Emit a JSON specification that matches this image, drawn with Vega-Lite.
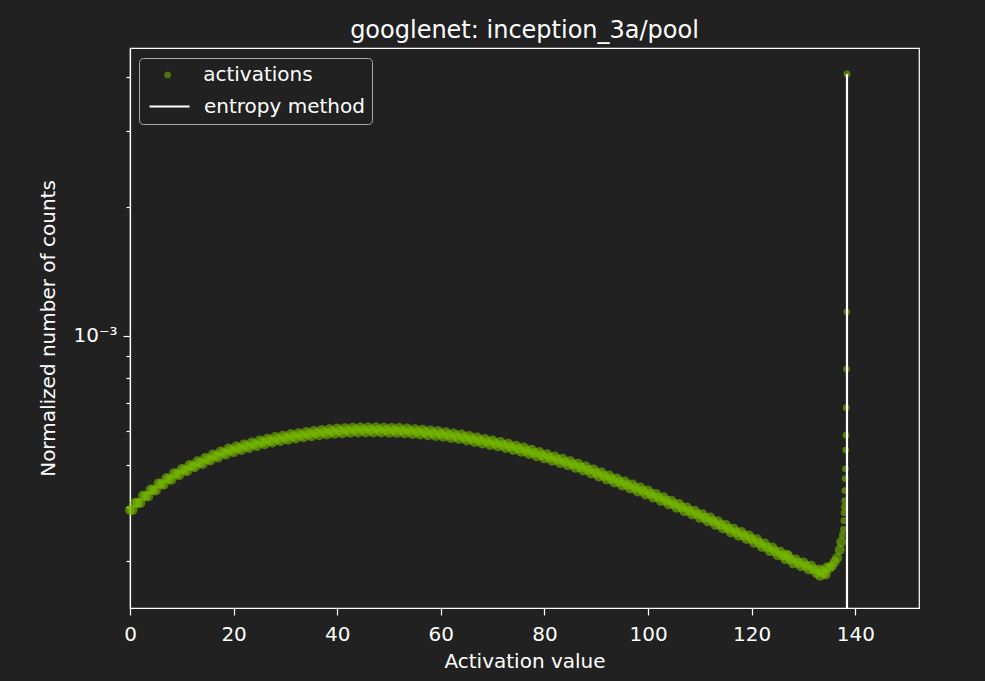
{
  "$schema": "https://vega.github.io/schema/vega-lite/v6.json",
  "width": 789,
  "height": 560,
  "autosize": {"type": "none"},
  "padding": {"left": 130, "top": 48, "right": 66, "bottom": 73},
  "background": "#212121",
  "config": {
    "view": {"stroke": "#ffffff", "strokeWidth": 1.2, "fill": "#212121"},
    "font": "DejaVu Sans",
    "axis": {
      "domainColor": "#ffffff",
      "domainWidth": 1.2,
      "tickColor": "#ffffff",
      "tickWidth": 1.2,
      "labelColor": "#ffffff",
      "titleColor": "#ffffff",
      "labelFont": "DejaVu Sans",
      "titleFont": "DejaVu Sans",
      "labelFontSize": 20,
      "titleFontSize": 20,
      "titleFontWeight": "normal",
      "grid": false
    },
    "legend": {
      "orient": "none",
      "legendX": 9,
      "legendY": 10,
      "padding": 7,
      "labelLimit": 400,
      "labelFont": "DejaVu Sans",
      "labelFontSize": 20,
      "labelColor": "#ffffff",
      "titleFont": "DejaVu Sans",
      "titleFontSize": 20,
      "titleColor": "#ffffff"
    }
  },
  "title": {
    "text": "googlenet: inception_3a/pool",
    "font": "DejaVu Sans",
    "fontSize": 24,
    "fontWeight": "normal",
    "color": "#ffffff",
    "anchor": "middle",
    "offset": 5
  },
  "layer": [
    {
      "data": {
        "values": [
          {"x":0,"y":3.939e-4},{"x":0.5,"y":3.937e-4},{"x":1,"y":4.093e-4},{"x":1.5,"y":4.090e-4},{"x":2,"y":4.087e-4},{"x":2.5,"y":4.248e-4},{"x":3,"y":4.246e-4},{"x":3.5,"y":4.236e-4},{"x":4,"y":4.393e-4},{"x":4.5,"y":4.383e-4},
          {"x":5,"y":4.373e-4},{"x":5.5,"y":4.538e-4},{"x":6,"y":4.528e-4},{"x":6.5,"y":4.510e-4},{"x":7,"y":4.669e-4},{"x":7.5,"y":4.650e-4},{"x":8,"y":4.631e-4},{"x":8.5,"y":4.797e-4},{"x":9,"y":4.777e-4},{"x":9.5,"y":4.747e-4},
          {"x":10,"y":4.906e-4},{"x":10.5,"y":4.875e-4},{"x":11,"y":4.846e-4},{"x":11.5,"y":5.008e-4},{"x":12,"y":4.979e-4},{"x":12.5,"y":4.949e-4},{"x":13,"y":5.110e-4},{"x":13.5,"y":5.075e-4},{"x":14,"y":5.040e-4},{"x":14.5,"y":5.203e-4},
          {"x":15,"y":5.168e-4},{"x":15.5,"y":5.132e-4},{"x":16,"y":5.301e-4},{"x":16.5,"y":5.261e-4},{"x":17,"y":5.220e-4},{"x":17.5,"y":5.386e-4},{"x":18,"y":5.345e-4},{"x":18.5,"y":5.304e-4},{"x":19,"y":5.472e-4},{"x":19.5,"y":5.420e-4},
          {"x":20,"y":5.369e-4},{"x":20.5,"y":5.531e-4},{"x":21,"y":5.480e-4},{"x":21.5,"y":5.429e-4},{"x":22,"y":5.592e-4},{"x":22.5,"y":5.540e-4},{"x":23,"y":5.488e-4},{"x":23.5,"y":5.653e-4},{"x":24,"y":5.600e-4},{"x":24.5,"y":5.547e-4},
          {"x":25,"y":5.713e-4},{"x":25.5,"y":5.657e-4},{"x":26,"y":5.600e-4},{"x":26.5,"y":5.765e-4},{"x":27,"y":5.709e-4},{"x":27.5,"y":5.652e-4},{"x":28,"y":5.818e-4},{"x":28.5,"y":5.761e-4},{"x":29,"y":5.700e-4},{"x":29.5,"y":5.863e-4},
          {"x":30,"y":5.802e-4},{"x":30.5,"y":5.739e-4},{"x":31,"y":5.905e-4},{"x":31.5,"y":5.842e-4},{"x":32,"y":5.778e-4},{"x":32.5,"y":5.942e-4},{"x":33,"y":5.878e-4},{"x":33.5,"y":5.813e-4},{"x":34,"y":5.979e-4},{"x":34.5,"y":5.913e-4},
          {"x":35,"y":5.848e-4},{"x":35.5,"y":6.014e-4},{"x":36,"y":5.949e-4},{"x":36.5,"y":5.880e-4},{"x":37,"y":6.043e-4},{"x":37.5,"y":5.973e-4},{"x":38,"y":5.903e-4},{"x":38.5,"y":6.067e-4},{"x":39,"y":5.997e-4},{"x":39.5,"y":5.927e-4},
          {"x":40,"y":6.091e-4},{"x":40.5,"y":6.017e-4},{"x":41,"y":5.943e-4},{"x":41.5,"y":6.103e-4},{"x":42,"y":6.029e-4},{"x":42.5,"y":5.955e-4},{"x":43,"y":6.115e-4},{"x":43.5,"y":6.041e-4},{"x":44,"y":5.966e-4},{"x":44.5,"y":6.124e-4},
          {"x":45,"y":6.045e-4},{"x":45.5,"y":5.966e-4},{"x":46,"y":6.124e-4},{"x":46.5,"y":6.045e-4},{"x":47,"y":5.966e-4},{"x":47.5,"y":6.124e-4},{"x":48,"y":6.045e-4},{"x":48.5,"y":5.964e-4},{"x":49,"y":6.120e-4},{"x":49.5,"y":6.039e-4},
          {"x":50,"y":5.958e-4},{"x":50.5,"y":6.113e-4},{"x":51,"y":6.033e-4},{"x":51.5,"y":5.953e-4},{"x":52,"y":6.107e-4},{"x":52.5,"y":6.023e-4},{"x":53,"y":5.939e-4},{"x":53.5,"y":6.089e-4},{"x":54,"y":6.005e-4},{"x":54.5,"y":5.921e-4},
          {"x":55,"y":6.071e-4},{"x":55.5,"y":5.987e-4},{"x":56,"y":5.903e-4},{"x":56.5,"y":6.051e-4},{"x":57,"y":5.965e-4},{"x":57.5,"y":5.880e-4},{"x":58,"y":6.026e-4},{"x":58.5,"y":5.941e-4},{"x":59,"y":5.856e-4},{"x":59.5,"y":6.002e-4},
          {"x":60,"y":5.917e-4},{"x":60.5,"y":5.828e-4},{"x":61,"y":5.970e-4},{"x":61.5,"y":5.881e-4},{"x":62,"y":5.794e-4},{"x":62.5,"y":5.934e-4},{"x":63,"y":5.846e-4},{"x":63.5,"y":5.758e-4},{"x":64,"y":5.899e-4},{"x":64.5,"y":5.807e-4},
          {"x":65,"y":5.717e-4},{"x":65.5,"y":5.851e-4},{"x":66,"y":5.761e-4},{"x":66.5,"y":5.670e-4},{"x":67,"y":5.804e-4},{"x":67.5,"y":5.715e-4},{"x":68,"y":5.626e-4},{"x":68.5,"y":5.759e-4},{"x":69,"y":5.670e-4},{"x":69.5,"y":5.581e-4},
          {"x":70,"y":5.713e-4},{"x":70.5,"y":5.625e-4},{"x":71,"y":5.537e-4},{"x":71.5,"y":5.668e-4},{"x":72,"y":5.580e-4},{"x":72.5,"y":5.489e-4},{"x":73,"y":5.615e-4},{"x":73.5,"y":5.524e-4},{"x":74,"y":5.433e-4},{"x":74.5,"y":5.557e-4},
          {"x":75,"y":5.468e-4},{"x":75.5,"y":5.378e-4},{"x":76,"y":5.501e-4},{"x":76.5,"y":5.409e-4},{"x":77,"y":5.318e-4},{"x":77.5,"y":5.437e-4},{"x":78,"y":5.345e-4},{"x":78.5,"y":5.255e-4},{"x":79,"y":5.372e-4},{"x":79.5,"y":5.282e-4},
          {"x":80,"y":5.193e-4},{"x":80.5,"y":5.308e-4},{"x":81,"y":5.219e-4},{"x":81.5,"y":5.129e-4},{"x":82,"y":5.243e-4},{"x":82.5,"y":5.155e-4},{"x":83,"y":5.068e-4},{"x":83.5,"y":5.180e-4},{"x":84,"y":5.094e-4},{"x":84.5,"y":5.005e-4},
          {"x":85,"y":5.113e-4},{"x":85.5,"y":5.024e-4},{"x":86,"y":4.935e-4},{"x":86.5,"y":5.042e-4},{"x":87,"y":4.954e-4},{"x":87.5,"y":4.865e-4},{"x":88,"y":4.970e-4},{"x":88.5,"y":4.879e-4},{"x":89,"y":4.791e-4},{"x":89.5,"y":4.891e-4},
          {"x":90,"y":4.803e-4},{"x":90.5,"y":4.715e-4},{"x":91,"y":4.814e-4},{"x":91.5,"y":4.727e-4},{"x":92,"y":4.640e-4},{"x":92.5,"y":4.737e-4},{"x":93,"y":4.650e-4},{"x":93.5,"y":4.565e-4},{"x":94,"y":4.661e-4},{"x":94.5,"y":4.577e-4},
          {"x":95,"y":4.493e-4},{"x":95.5,"y":4.587e-4},{"x":96,"y":4.504e-4},{"x":96.5,"y":4.422e-4},{"x":97,"y":4.514e-4},{"x":97.5,"y":4.431e-4},{"x":98,"y":4.350e-4},{"x":98.5,"y":4.440e-4},{"x":99,"y":4.360e-4},{"x":99.5,"y":4.281e-4},
          {"x":100,"y":4.371e-4},{"x":100.5,"y":4.289e-4},{"x":101,"y":4.208e-4},{"x":101.5,"y":4.293e-4},{"x":102,"y":4.212e-4},{"x":102.5,"y":4.132e-4},{"x":103,"y":4.215e-4},{"x":103.5,"y":4.136e-4},{"x":104,"y":4.059e-4},{"x":104.5,"y":4.140e-4},
          {"x":105,"y":4.063e-4},{"x":105.5,"y":3.986e-4},{"x":106,"y":4.067e-4},{"x":106.5,"y":3.990e-4},{"x":107,"y":3.914e-4},{"x":107.5,"y":3.993e-4},{"x":108,"y":3.918e-4},{"x":108.5,"y":3.844e-4},{"x":109,"y":3.922e-4},{"x":109.5,"y":3.849e-4},
          {"x":110,"y":3.776e-4},{"x":110.5,"y":3.851e-4},{"x":111,"y":3.779e-4},{"x":111.5,"y":3.707e-4},{"x":112,"y":3.782e-4},{"x":112.5,"y":3.709e-4},{"x":113,"y":3.637e-4},{"x":113.5,"y":3.708e-4},{"x":114,"y":3.636e-4},{"x":114.5,"y":3.565e-4},
          {"x":115,"y":3.635e-4},{"x":115.5,"y":3.563e-4},{"x":116,"y":3.493e-4},{"x":116.5,"y":3.564e-4},{"x":117,"y":3.497e-4},{"x":117.5,"y":3.432e-4},{"x":118,"y":3.501e-4},{"x":118.5,"y":3.435e-4},{"x":119,"y":3.370e-4},{"x":119.5,"y":3.437e-4},
          {"x":120,"y":3.372e-4},{"x":120.5,"y":3.303e-4},{"x":121,"y":3.366e-4},{"x":121.5,"y":3.299e-4},{"x":122,"y":3.231e-4},{"x":122.5,"y":3.292e-4},{"x":123,"y":3.226e-4},{"x":123.5,"y":3.160e-4},{"x":124,"y":3.220e-4},{"x":124.5,"y":3.156e-4},
          {"x":125,"y":3.093e-4},{"x":125.5,"y":3.151e-4},{"x":126,"y":3.088e-4},{"x":126.5,"y":3.025e-4},{"x":127,"y":3.083e-4},{"x":127.5,"y":3.020e-4},{"x":128,"y":2.959e-4},{"x":128.5,"y":3.021e-4},{"x":129,"y":2.967e-4},{"x":129.5,"y":2.913e-4},
          {"x":130,"y":2.973e-4},{"x":130.5,"y":2.919e-4},{"x":131,"y":2.865e-4},{"x":131.5,"y":2.921e-4},{"x":132,"y":2.864e-4},{"x":132.5,"y":2.808e-4},{"x":133,"y":2.863e-4},{"x":133.5,"y":2.836e-4},{"x":134,"y":2.809e-4},{"x":134.5,"y":2.893e-4},
          {"x":135,"y":2.888e-4},{"x":135.5,"y":2.919e-4},{"x":136,"y":2.982e-4},{"x":136.5,"y":3.046e-4},{"x":137,"y":3.179e-4},{"x":137.3,"y":3.319e-4},
          {"x":133.2,"y":2.77e-4},{"x":134.3,"y":2.79e-4},{"x":126.8,"y":3.10e-4}
        ]
      },
      "mark": {"type": "circle", "size": 100, "opacity": 0.6},
      "encoding": {
        "x": {
          "field": "x",
          "type": "quantitative",
          "scale": {"domain": [0, 152.3], "nice": false, "zero": false},
          "axis": {
            "values": [0, 20, 40, 60, 80, 100, 120, 140],
            "format": "d",
            "tickSize": 7,
            "labelPadding": 9,
            "labelFlush": false,
            "title": "Activation value",
            "titlePadding": 7
          }
        },
        "y": {
          "field": "y",
          "type": "quantitative",
          "scale": {"type": "log", "domain": [0.000233, 0.004675], "nice": false},
          "axis": {
            "values": [0.0003, 0.0004, 0.0005, 0.0006, 0.0007, 0.0008, 0.0009, 0.001, 0.002, 0.003, 0.004],
            "labelExpr": "datum.value == 0.001 ? '10⁻³' : ''",
            "tickSize": {"condition": {"test": "datum.value == 0.001", "value": 7}, "value": 4},
            "labelPadding": 6,
            "title": "Normalized number of counts",
            "titlePadding": 14
          }
        },
        "color": {
          "datum": "activations",
          "type": "nominal",
          "scale": {"domain": ["activations"], "range": ["#76b900"]},
          "legend": {
            "title": null,
            "symbolType": "circle",
            "symbolSize": 45,
            "symbolOpacity": 0.55,
            "symbolOffset": 11.6,
            "labelOffset": 25.6
          }
        }
      }
    },
    {
      "data": {
        "values": [
          {"x":137.5,"y":3.446e-4},{"x":137.7,"y":3.55e-4},{"x":137.8,"y":3.72e-4},{"x":137.85,"y":3.88e-4},{"x":137.9,"y":4.00e-4},{"x":137.95,"y":4.14e-4},{"x":138.0,"y":4.37e-4},{"x":138.05,"y":4.66e-4},{"x":138.1,"y":4.91e-4},{"x":138.15,"y":5.43e-4},{"x":138.2,"y":5.88e-4},
          {"x":138.25,"y":6.81e-4},{"x":138.3,"y":8.38e-4},{"x":138.35,"y":1.138e-3},{"x":138.4,"y":4.07e-3}
        ]
      },
      "mark": {"type": "circle", "size": 45, "opacity": 0.6, "color": "#76b900"},
      "encoding": {
        "x": {"field": "x", "type": "quantitative"},
        "y": {"field": "y", "type": "quantitative"}
      }
    },
    {
      "data": {"values": [{"x": 138.4, "y": 0.000233, "y2": 0.00407}]},
      "mark": {"type": "rule", "strokeWidth": 2.2, "clip": true, "color": "#ffffff"},
      "encoding": {
        "x": {"field": "x", "type": "quantitative"},
        "y": {"field": "y", "type": "quantitative"},
        "y2": {"field": "y2"},
        "strokeDash": {
          "datum": "entropy method",
          "type": "nominal",
          "scale": {"domain": ["entropy method"], "range": [[1, 0]]},
          "legend": {
            "title": " ",
            "titlePadding": 10,
            "symbolType": "M-2,0H2",
            "symbolSize": 400,
            "symbolStrokeColor": "#ffffff",
            "symbolStrokeWidth": 2.2,
            "symbolOffset": 12,
            "labelOffset": 23,
            "strokeColor": "#aaaaaa",
            "cornerRadius": 4
          }
        }
      }
    }
  ]
}
